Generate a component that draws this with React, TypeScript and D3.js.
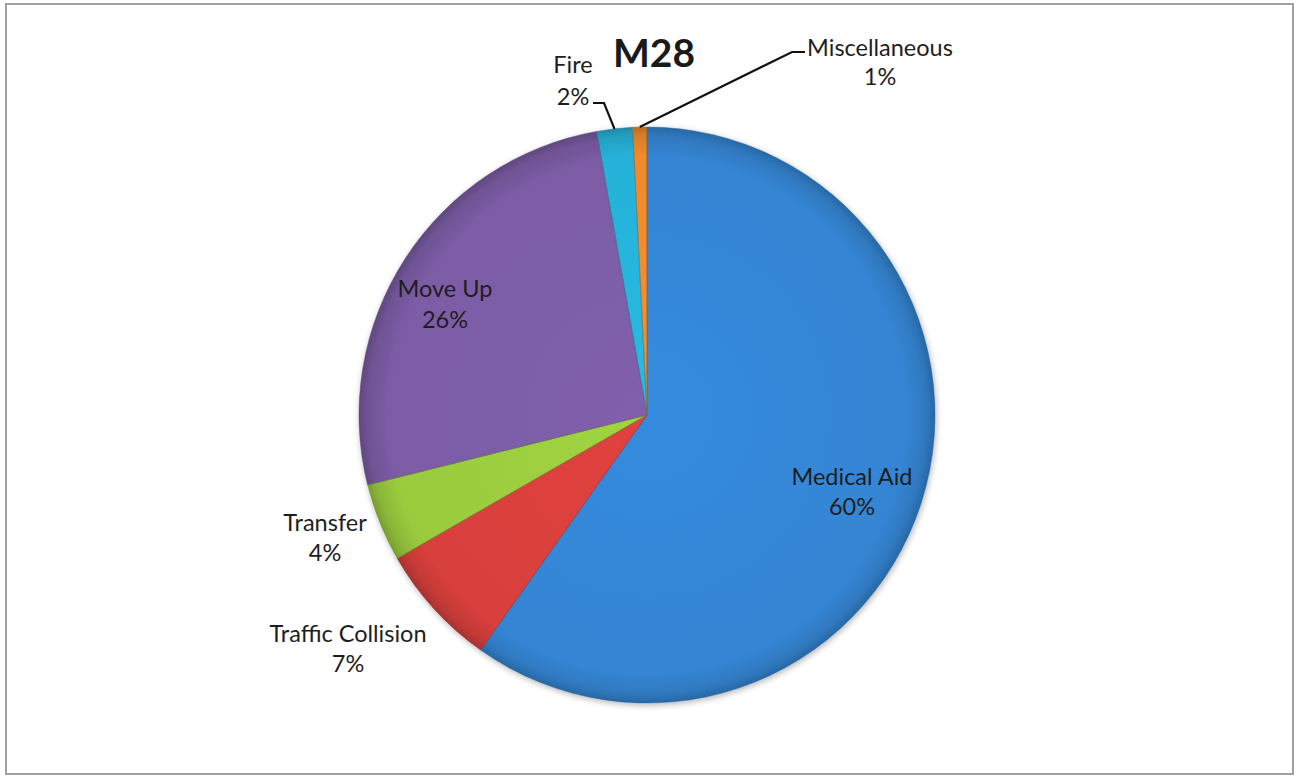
import React from "react";
import * as d3 from "d3";

const categories = ["Medical Aid", "Traffic Collision", "Transfer", "Move Up", "Fire", "Miscellaneous"];
const values = [59.8, 6.9, 4.4, 26.1, 2.0, 0.8];
const percentLabels = ["60%", "7%", "4%", "26%", "2%", "1%"];
const colors = ["#3485d4", "#d83f3c", "#9acb3e", "#7b5ca5", "#27b2d9", "#f08a2c"];
const title = "M28";

const W = 1299, H = 778;
const cx = 647, cy = 415, R = 288;

// baseline of first label line, gap to second line
const labelPos: Record<string, [number, number, number]> = {
  "Medical Aid": [852, 485, 30],
  "Traffic Collision": [348, 642, 30],
  "Transfer": [325, 531, 30],
  "Move Up": [445, 297, 31],
  "Fire": [573, 73, 32],
  "Miscellaneous": [880, 56, 29],
};

export default function App() {
  const pie = d3.pie<number>().sort(null).value((d) => d)(values);
  const arc = d3.arc<d3.PieArcDatum<number>>().innerRadius(0).outerRadius(R);
  const font = "Lato, 'Open Sans', sans-serif";
  const edge = (i: number) => {
    const a = (pie[i].startAngle + pie[i].endAngle) / 2;
    return [cx + R * Math.sin(a), cy - R * Math.cos(a)];
  };
  const fe = edge(4), me = edge(5);
  return (
    <svg width={W} height={H} style={{ position: "absolute", left: 0, top: 0, background: "#fff" }}>
      <defs>
        {colors.map((c, i) => {
          const col = d3.color(c)!;
          return (
            <radialGradient key={i} id={"g" + i} cx={0} cy={0} r={R} gradientUnits="userSpaceOnUse">
              <stop offset="0%" stopColor={d3.color(c)!.brighter(0.12).formatHex()} />
              <stop offset="90%" stopColor={c} />
              <stop offset="97%" stopColor={col.darker(0.3).formatHex()} />
              <stop offset="100%" stopColor={col.darker(0.7).formatHex()} />
            </radialGradient>
          );
        })}
        <filter id="sh" x="-10%" y="-10%" width="120%" height="120%">
          <feGaussianBlur in="SourceAlpha" stdDeviation="3" />
          <feOffset dx="1" dy="2" result="b" />
          <feComponentTransfer><feFuncA type="linear" slope="0.3" /></feComponentTransfer>
          <feMerge><feMergeNode /><feMergeNode in="SourceGraphic" /></feMerge>
        </filter>
      </defs>
      <rect x={6} y={4} width={1287} height={770} fill="#fff" stroke="#a0a0a0" strokeWidth={2} />
      <g transform={`translate(${cx},${cy})`} filter="url(#sh)">
        {pie.map((p, i) => (
          <path key={i} d={arc(p)!} fill={`url(#g${i})`} />
        ))}
        {pie.map((p, i) => (
          <path key={"s" + i} d={arc(p)!} fill="none"
            stroke={d3.color(colors[i])!.darker(1).formatHex()} strokeWidth={1} strokeOpacity={0.45} />
        ))}
      </g>
      <polyline points={`593,103 604,103 ${fe[0]},${fe[1]}`} fill="none" stroke="#111" strokeWidth={2.2} />
      <polyline points={`805,52 792,52 ${me[0]},${me[1]}`} fill="none" stroke="#111" strokeWidth={2.2} />
      <text x={654} y={67} textAnchor="middle" fontFamily={font} fontWeight={700} fontSize={39} fill="#1a1a1a">{title}</text>
      {categories.map((c, i) => {
        const [x, y, g] = labelPos[c];
        return (
          <text key={c} textAnchor="middle" fontFamily={font} fontSize={23.5} fill="#1e1e1e">
            <tspan x={x} y={y}>{c}</tspan>
            <tspan x={x} y={y + g}>{percentLabels[i]}</tspan>
          </text>
        );
      })}
    </svg>
  );
}
